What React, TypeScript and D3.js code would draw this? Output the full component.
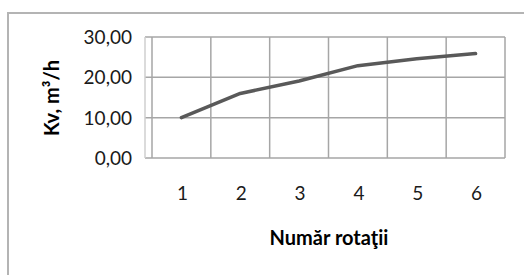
import React from "react";
import * as d3 from "d3";

const categories = ["1", "2", "3", "4", "5", "6"];
const values = [10.0, 16.0, 19.1, 22.9, 24.6, 25.9];
const yTicks = [0, 10, 20, 30];

const W = 524;
const H = 275;
const plotLeft = 145;
const bandLeft = 152;
const plotRight = 505;
const plotTop = 37;
const plotBottom = 158;

export default function App() {
  const x = d3.scaleBand<string>().domain(categories).range([bandLeft, plotRight]).padding(0);
  const y = d3.scaleLinear().domain([0, 30]).range([plotBottom, plotTop]);
  const line = d3
    .line<number>()
    .x((_, i) => (x(categories[i]) as number) + x.bandwidth() / 2)
    .y((d) => y(d));
  const fmt = (v: number) => v.toFixed(2).replace(".", ",");
  const font = "Lato, 'Open Sans', sans-serif";
  const grid = "#a6a6a6";

  return (
    <svg
      width={W}
      height={H}
      style={{ position: "fixed", left: 0, top: 0 }}
      fontFamily={font}
    >
      <rect x={0} y={0} width={W} height={H} fill="#fff" />
      {/* outer chart border */}
      <rect x={8} y={13} width={W + 20} height={H + 20} fill="none" stroke="#b4b4b4" strokeWidth={2} />
      {/* horizontal grid */}
      {yTicks.map((t) => (
        <line key={"h" + t} x1={plotLeft} x2={plotRight} y1={y(t)} y2={y(t)} stroke={grid} strokeWidth={1.5} />
      ))}
      {/* vertical grid */}
      {categories.map((c) => (
        <line
          key={"v" + c}
          x1={(x(c) as number) + x.bandwidth()}
          x2={(x(c) as number) + x.bandwidth()}
          y1={plotTop}
          y2={plotBottom}
          stroke={grid}
          strokeWidth={1.5}
        />
      ))}
      <line x1={bandLeft} x2={bandLeft} y1={plotTop} y2={plotBottom} stroke={grid} strokeWidth={1.5} />
      <line x1={plotLeft} x2={plotLeft} y1={plotTop} y2={plotBottom} stroke="#cfcfcf" strokeWidth={1.5} />
      {/* data line */}
      <path d={line(values) || ""} fill="none" stroke="#595959" strokeWidth={3.5} strokeLinecap="round" strokeLinejoin="round" />
      {/* y tick labels */}
      {yTicks.map((t) => (
        <text key={"yl" + t} x={132} y={y(t)} dy="0.36em" textAnchor="end" fontSize={19} fill="#1a1a1a">
          {fmt(t)}
        </text>
      ))}
      {/* x tick labels */}
      {categories.map((c) => (
        <text
          key={"xl" + c}
          x={(x(c) as number) + x.bandwidth() / 2 + 1}
          y={200}
          textAnchor="middle"
          fontSize={19}
          fill="#1a1a1a"
        >
          {c}
        </text>
      ))}
      {/* axis titles */}
      <text x={329} y={245} textAnchor="middle" fontSize={20} fontWeight="bold" fill="#000">
        Număr rotaţii
      </text>
      <text
        transform={`translate(59,98) rotate(-90)`}
        textAnchor="middle"
        fontSize={20}
        fontWeight="bold"
        fill="#000"
      >
        Kv, m³/h
      </text>
    </svg>
  );
}
